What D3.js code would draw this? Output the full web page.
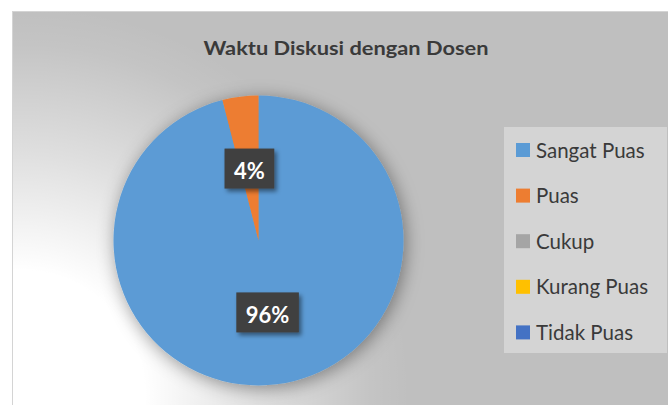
<!DOCTYPE html>
<html><head><meta charset="utf-8">
<script src="https://cdn.jsdelivr.net/npm/d3@7"></script>
<style>html,body{margin:0;padding:0;background:#fff;overflow:hidden}svg{display:block}</style>
</head><body>
<script>
const title = "Waktu Diskusi dengan Dosen";
const categories = ["Sangat Puas", "Puas", "Cukup", "Kurang Puas", "Tidak Puas"];
const values = [96, 4, 0, 0, 0];
const colors = ["#5B9BD5", "#ED7D31", "#A5A5A5", "#FFC000", "#4472C4"];

const W = 668, H = 405;
const font = "Lato, 'Open Sans', sans-serif";
const svg = d3.select("body").append("svg").attr("width", W).attr("height", H);
const defs = svg.append("defs");

const rg = defs.append("radialGradient").attr("id", "bgGlow")
  .attr("gradientUnits", "userSpaceOnUse").attr("cx", 20).attr("cy", 395).attr("r", 390);
[[0,1],[0.32,1],[0.62,0.5],[0.9,0.08],[1,0]].forEach(([o,a]) =>
  rg.append("stop").attr("offset", o).attr("stop-color", "#fff").attr("stop-opacity", a));

const pieShadow = defs.append("filter").attr("id", "pieShadow")
  .attr("x", "-30%").attr("y", "-30%").attr("width", "160%").attr("height", "160%");
pieShadow.append("feDropShadow").attr("dx", 2).attr("dy", 3).attr("stdDeviation", 9)
  .attr("flood-color", "#000").attr("flood-opacity", 0.4);

const boxShadow = defs.append("filter").attr("id", "boxShadow")
  .attr("x", "-30%").attr("y", "-30%").attr("width", "160%").attr("height", "160%");
boxShadow.append("feDropShadow").attr("dx", 2.5).attr("dy", 3).attr("stdDeviation", 2)
  .attr("flood-color", "#000").attr("flood-opacity", 0.45);

// chart area
svg.append("rect").attr("x", 12.5).attr("y", 11.5).attr("width", 700).attr("height", 420)
  .attr("fill", "#bfbfbf").attr("stroke", "#d4d4d4").attr("stroke-width", 1);
svg.append("rect").attr("x", 13).attr("y", 12).attr("width", 700).attr("height", 420)
  .attr("fill", "url(#bgGlow)");

// title
svg.append("text").attr("x", 346).attr("y", 55).attr("text-anchor", "middle")
  .attr("font-family", font).attr("font-weight", 700).attr("font-size", 18.5)
  .attr("fill", "#3a3a3a").attr("textLength", 285).attr("lengthAdjust", "spacingAndGlyphs")
  .text(title);

// pie
const cx = 258.5, cy = 240.5, R = 145;
const data = categories.map((c, i) => ({cat: c, value: values[i], color: colors[i]}));
const pie = d3.pie().sort(null).value(d => d.value);
const arcs = pie(data);
const arc = d3.arc().innerRadius(0).outerRadius(R);
const g = svg.append("g").attr("transform", `translate(${cx},${cy})`);
g.append("g").attr("filter", "url(#pieShadow)")
  .selectAll("path").data(arcs.filter(d => d.value > 0)).join("path")
  .attr("d", arc).attr("fill", d => d.data.color);

// labels
const total = d3.sum(values);
arcs.filter(d => d.value > 0).forEach(d => {
  const [x, y] = arc.centroid(d);
  const lg = g.append("g").attr("transform", `translate(${x},${y})`);
  const rect = lg.append("rect").attr("fill", "#404040").attr("filter", "url(#boxShadow)");
  const t = lg.append("text").attr("text-anchor", "middle").attr("y", 10.5)
    .attr("font-family", font).attr("font-weight", 700).attr("font-size", 22)
    .attr("fill", "#fff").text(Math.round(d.value / total * 100) + "%");
  const w = t.node().getComputedTextLength() + 19;
  rect.attr("x", -w / 2).attr("y", -20).attr("width", w).attr("height", 40);
});

// legend
svg.append("rect").attr("x", 504).attr("y", 127).attr("width", 163).attr("height", 226)
  .attr("fill", "#d4d4d4");
const leg = svg.append("g").selectAll("g").data(data).join("g")
  .attr("transform", (d, i) => `translate(516,${143 + i * 45.6})`);
leg.append("rect").attr("width", 14).attr("height", 14).attr("fill", d => d.color);
leg.append("text").attr("x", 20).attr("y", 14.6)
  .attr("font-family", font).attr("font-size", 20.5).attr("fill", "#3a3a3a")
  .text(d => d.cat);
</script>
</body></html>
